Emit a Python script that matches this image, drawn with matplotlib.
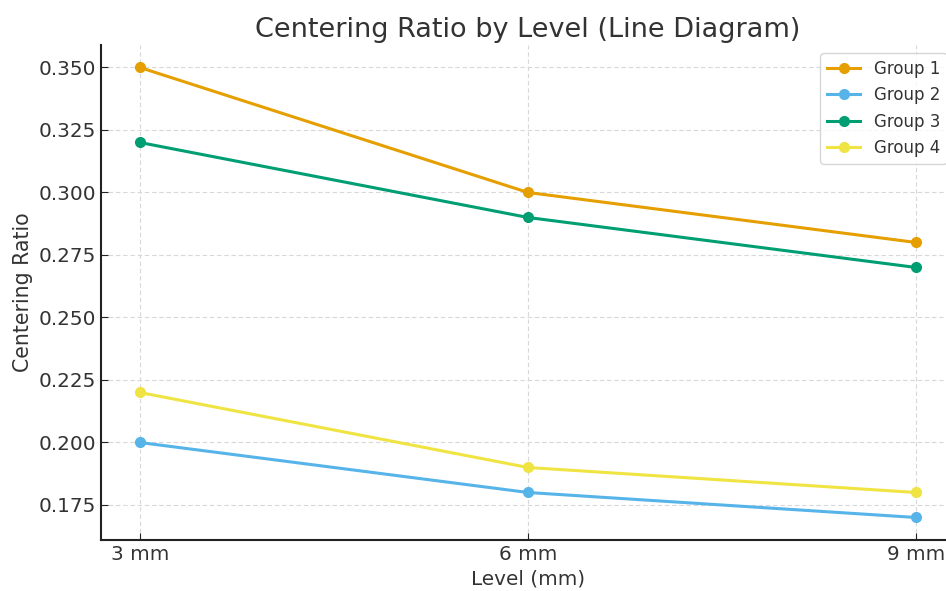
import numpy as np
import matplotlib.pyplot as plt

# dados
levels = ['3 mm', '6 mm', '9 mm']
group1 = [0.35, 0.30, 0.28]
group2 = [0.20, 0.18, 0.17]
group3 = [0.32, 0.29, 0.27]
group4 = [0.22, 0.19, 0.18]
series = {'Group 1': group1, 'Group 2': group2, 'Group 3': group3, 'Group 4': group4}
colors = ['#E69F00', '#56B4E9', '#009E73', '#F0E442']

fig = plt.figure(figsize=(9.46, 5.91), dpi=100)
ax = fig.add_axes([0.1068, 0.0863, 0.9027, 0.8376])

x = np.arange(len(levels))
for (name, vals), c in zip(series.items(), colors):
	ax.plot(x, vals, '-o', color=c, label=name, linewidth=2.2, markersize=7)

ax.set_xticks(x)
ax.set_xticklabels(levels)
ax.tick_params(labelsize=14.4, colors='#333333', direction='in', length=5)
ax.tick_params(axis='both', color='#222222')
ax.set_xlabel('Level (mm)', fontsize=14.4, color='#333333')
ax.set_ylabel('Centering Ratio', fontsize=14.8, color='#333333')
ax.set_title('Centering Ratio by Level (Line Diagram)', fontsize=19.5, color='#333333', pad=6)
ax.grid(True, linestyle=(0, (4, 2.5)), color='#d8d8d8', linewidth=0.8)
for s in ['top', 'right']:
	ax.spines[s].set_visible(False)
for s in ['left', 'bottom']:
	ax.spines[s].set_linewidth(1.5)
	ax.spines[s].set_color('#222222')
leg = ax.legend(loc='upper right', fontsize=12)
for t in leg.get_texts():
	t.set_color('#333333')

fig.savefig('out.png', dpi=100)
